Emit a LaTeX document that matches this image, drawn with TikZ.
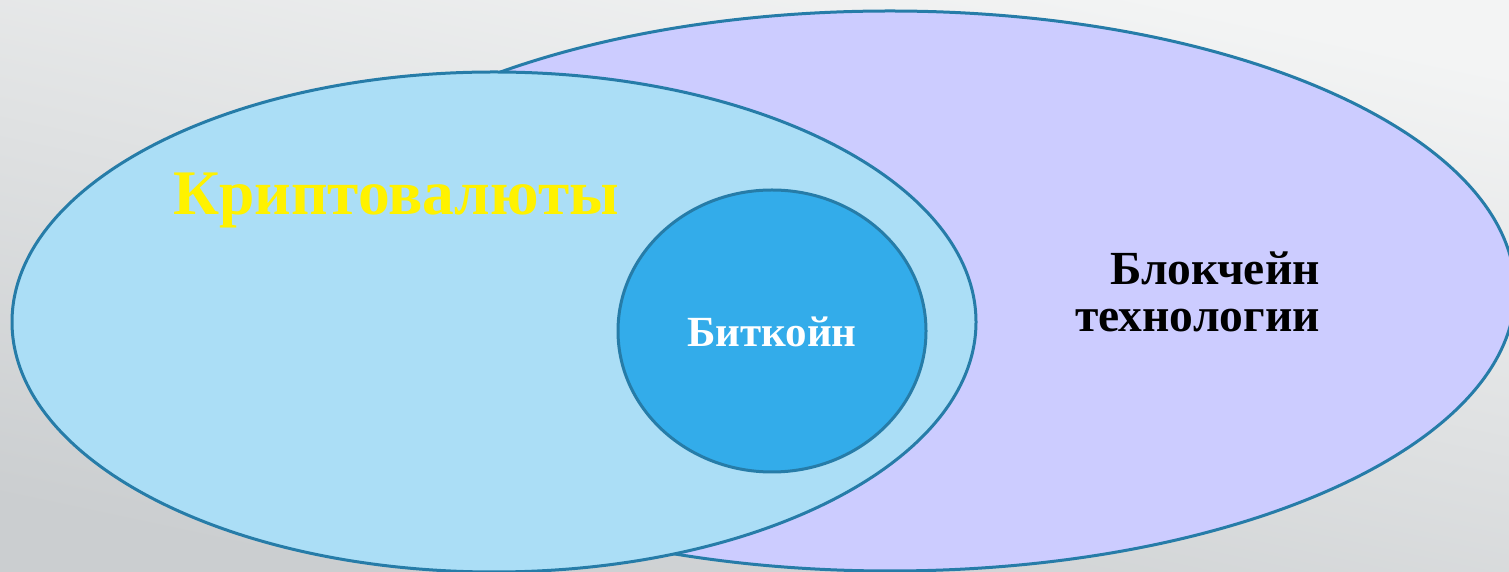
\documentclass[tikz,border=0pt]{standalone}
\usepackage{fontspec}
\setmainfont{Liberation Serif}
\definecolor{edgeblue}{RGB}{38,124,168}
\definecolor{chainfill}{RGB}{204,204,255}
\definecolor{cryptofill}{RGB}{171,222,246}
\definecolor{coinfill}{RGB}{51,172,234}
\definecolor{bgtop}{RGB}{243,244,244}
\definecolor{bgbottom}{RGB}{203,206,208}
\tikzset{
  setline/.style={draw=edgeblue, line width=3pt},
  setlabel/.style={inner sep=0pt, font=\bfseries}
}
\begin{document}
\begin{tikzpicture}[x=1pt,y=1pt]
\useasboundingbox (0,0) rectangle (1509,572);
% background
\shade[top color=bgtop, bottom color=bgbottom, shading angle=-12] (0,0) rectangle (1509,572);
% sets
\draw[setline, fill=chainfill] (890,281) ellipse [x radius=625, y radius=280];
\draw[setline, fill=cryptofill] (494,250) ellipse [x radius=482, y radius=250];
\draw[setline, fill=coinfill] (772,241) ellipse [x radius=154, y radius=141];
% labels
\node[setlabel, text=yellow, anchor=base west, font=\bfseries\fontsize{63.5}{70}\selectfont]
  (crypto) at (173,357) {Криптовалюты};
\node[setlabel, text=white, anchor=base, font=\bfseries\fontsize{43}{48}\selectfont]
  (bitcoin) at (772,225) {Биткойн};
\node[setlabel, text=black, anchor=base east, align=right, font=\bfseries\fontsize{47.5}{47}\selectfont]
  (blockchain) at (1320,240) {Блокчейн\\технологии};
\end{tikzpicture}
\end{document}
